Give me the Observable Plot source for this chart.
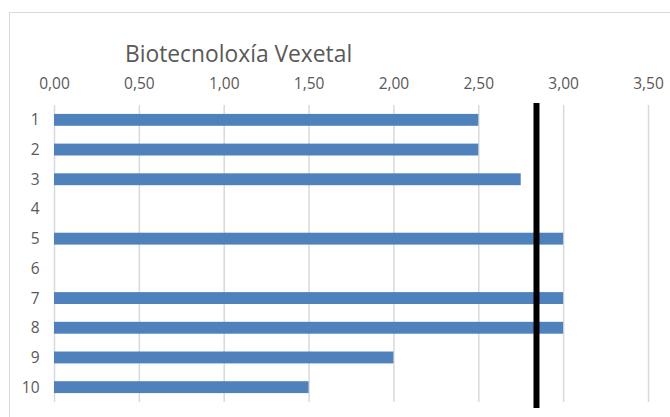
<!DOCTYPE html>
<html>
<head>
<meta charset="utf-8">
<script src="https://cdn.jsdelivr.net/npm/d3@7"></script>
<script src="https://cdn.jsdelivr.net/npm/@observablehq/plot@0.6"></script>
<style>
  html, body { margin: 0; padding: 0; background: #fff; }
  #wrap { position: relative; width: 670px; height: 417px; overflow: hidden; }
  #frame { position: absolute; left: 9px; top: 12px; width: 700px; height: 440px; border-top: 1.5px solid #d9d9d9; border-left: 1.5px solid #d9d9d9; }
  #title { position: absolute; left: 125px; top: 39px; font-family: "Open Sans", sans-serif; font-size: 22.8px; color: #595959; white-space: nowrap; line-height: 30px; }
  #chart { position: absolute; left: 0; top: 0; }
</style>
</head>
<body>
<div id="wrap">
  <div id="frame"></div>
  <div id="title">Biotecnoloxía Vexetal</div>
  <div id="chart"></div>
</div>
<script>
const categories = ["1", "2", "3", "4", "5", "6", "7", "8", "9", "10"];
const values = [2.5, 2.5, 2.75, null, 3.0, null, 3.0, 3.0, 2.0, 1.5];
const xTicks = [0, 0.5, 1.0, 1.5, 2.0, 2.5, 3.0, 3.5];
const referenceValue = [2.84];

const rows = categories.map((c, i) => ({category: c, value: values[i]})).filter(d => d.value != null);

const fmt = d => d.toFixed(2).replace(".", ",");

const plot = Plot.plot({
  width: 670,
  height: 417,
  marginLeft: 54,
  marginRight: 22,
  marginTop: 105,
  marginBottom: 15,
  style: { fontFamily: "'Open Sans', sans-serif", fontSize: "15px", color: "#595959", background: "transparent" },
  x: { domain: [0, 3.5], axis: null, label: null },
  y: { domain: categories, paddingInner: 0.6, paddingOuter: 0.3, round: false, axis: null, label: null },
  marks: [
    Plot.gridX(xTicks, { stroke: "#d9d9d9", strokeOpacity: 1, strokeWidth: 1.5 }),
    Plot.axisX(xTicks, { anchor: "top", label: null, tickSize: 0, tickPadding: 17, tickFormat: fmt, fill: "#595959", fontSize: 15.5 }),
    Plot.axisY(categories, { anchor: "left", label: null, tickSize: 0, tickPadding: 15, fill: "#595959", fontSize: 15.5 }),
    Plot.barX(rows, { x: "value", y: "category", fill: "#4f81bd" }),
    Plot.ruleX(referenceValue, { stroke: "#000", strokeWidth: 6, insetTop: -2, insetBottom: -6 })
  ]
});
document.getElementById("chart").appendChild(plot);
</script>
</body>
</html>
